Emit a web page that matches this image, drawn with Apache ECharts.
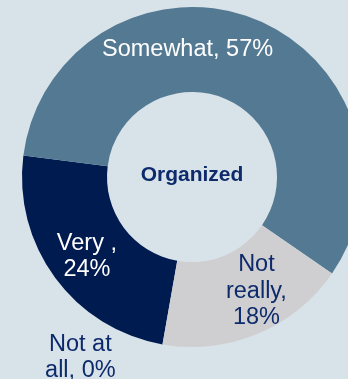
<!DOCTYPE html>
<html>
<head>
<meta charset="utf-8">
<script src="https://cdn.jsdelivr.net/npm/echarts@6/dist/echarts.min.js"></script>
<style>
  html, body { margin: 0; padding: 0; background: #d8e2e9; }
  #chart { width: 348px; height: 379px; }
</style>
</head>
<body>
<div id="chart"></div>
<script>
// Survey answers, in drawing order (clockwise)
const categories = ['Not at all', 'Very ', 'Somewhat', 'Not really'];
const values = [0, 24, 57, 18];
// Label text per answer; {v} is replaced by the value
const labelTemplates = ['Not at\nall, {v}%', 'Very ,\n{v}%', 'Somewhat, {v}%', 'Not\nreally,\n{v}%'];
const sliceColors = ['#cfcfd1', '#001b4f', '#537a92', '#cfcfd1'];
const labelColors = ['#0d2a6b', '#ffffff', '#ffffff', '#0d2a6b'];
// Label nudges away from the default inside position
const labelShift = [[-89, 52], [0, 2], [-51, -6], [14, -6]];
const centerTitle = 'Organized';

const chart = echarts.init(document.getElementById('chart'), null, { renderer: 'canvas' });

const data = categories.map((name, i) => ({
  name: name,
  value: values[i],
  itemStyle: { color: sliceColors[i] },
  label: {
    color: labelColors[i],
    formatter: labelTemplates[i].replace('{v}', values[i])
  }
}));

chart.setOption({
  backgroundColor: '#d8e2e9',
  animation: false,
  title: {
    text: centerTitle,
    left: 187,
    top: 160,
    textAlign: 'center',
    textStyle: {
      fontFamily: 'Liberation Sans, Arial, sans-serif',
      fontSize: 21,
      fontWeight: 'bold',
      color: '#0d2a6b'
    }
  },
  series: [{
    type: 'pie',
    center: [192, 177],
    radius: [85, 170],
    startAngle: -100,
    clockwise: true,
    avoidLabelOverlap: false,
    silent: true,
    itemStyle: { borderWidth: 0 },
    label: {
      show: true,
      position: 'inside',
      fontFamily: 'Liberation Sans, Arial, sans-serif',
      fontSize: 23.5,
      lineHeight: 26.5,
      align: 'center'
    },
    labelLine: { show: false },
    labelLayout: function (params) {
      const s = labelShift[params.dataIndex];
      return { dx: s[0], dy: s[1] };
    },
    data: data
  }]
});
</script>
</body>
</html>
